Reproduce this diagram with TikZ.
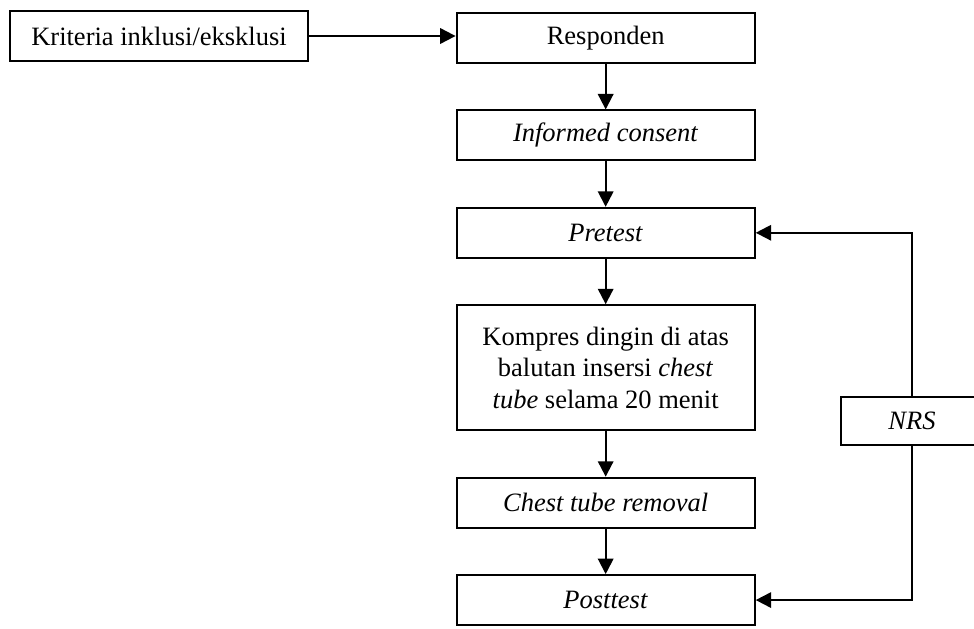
\documentclass[tikz,border=0pt]{standalone}
\usepackage{fontspec}
\setmainfont{Liberation Serif}
\usetikzlibrary{arrows.meta, positioning}

\begin{document}
\begin{tikzpicture}[
        x=0.4528pt, y=-0.4528pt,
        node distance=20.6pt and 66.6pt,
        font=\fontsize{12}{14.3}\selectfont,
        stepbox/.style={
            rectangle,
            draw=black,
            line width=0.9pt,
            align=center,
            inner sep=0pt,
            minimum width=135pt,
            minimum height=22.6pt
        },
        arrow/.style={
            -{Triangle[length=7pt, width=7pt]},
            draw=black,
            line width=0.9pt
        }
    ]
    \useasboundingbox (0,0) rectangle (974,628);

    % Selection
    \node[stepbox, minimum width=134.5pt] (krit) at (159,36) {Kriteria inklusi/eksklusi};

    % Main flow
    \node[stepbox, right=of krit, yshift=-0.9pt] (resp) {Responden};
    \node[stepbox, below=of resp] (cons) {\textit{Informed consent}};
    \node[stepbox, below=of cons] (pre) {\textit{Pretest}};
    \node[stepbox, below=of pre, minimum height=56.6pt] (komp) {Kompres dingin di atas\\ balutan insersi \textit{chest}\\ \textit{tube} selama 20 menit};
    \node[stepbox, below=of komp] (chest) {\textit{Chest tube removal}};
    \node[stepbox, below=of chest] (post) {\textit{Posttest}};

    % Measurement
    \node[stepbox, minimum width=64.3pt, minimum height=21.7pt] (nrs) at (912,421) {\textit{NRS}};

    % Arrows
    \draw[arrow] (krit) -- (krit -| resp.west);
    \draw[arrow] (resp) -- (cons);
    \draw[arrow] (cons) -- (pre);
    \draw[arrow] (pre) -- (komp);
    \draw[arrow] (komp) -- (chest);
    \draw[arrow] (chest) -- (post);
    \draw[arrow] (nrs) |- (pre);
    \draw[arrow] (nrs) |- (post);

\end{tikzpicture}
\end{document}
